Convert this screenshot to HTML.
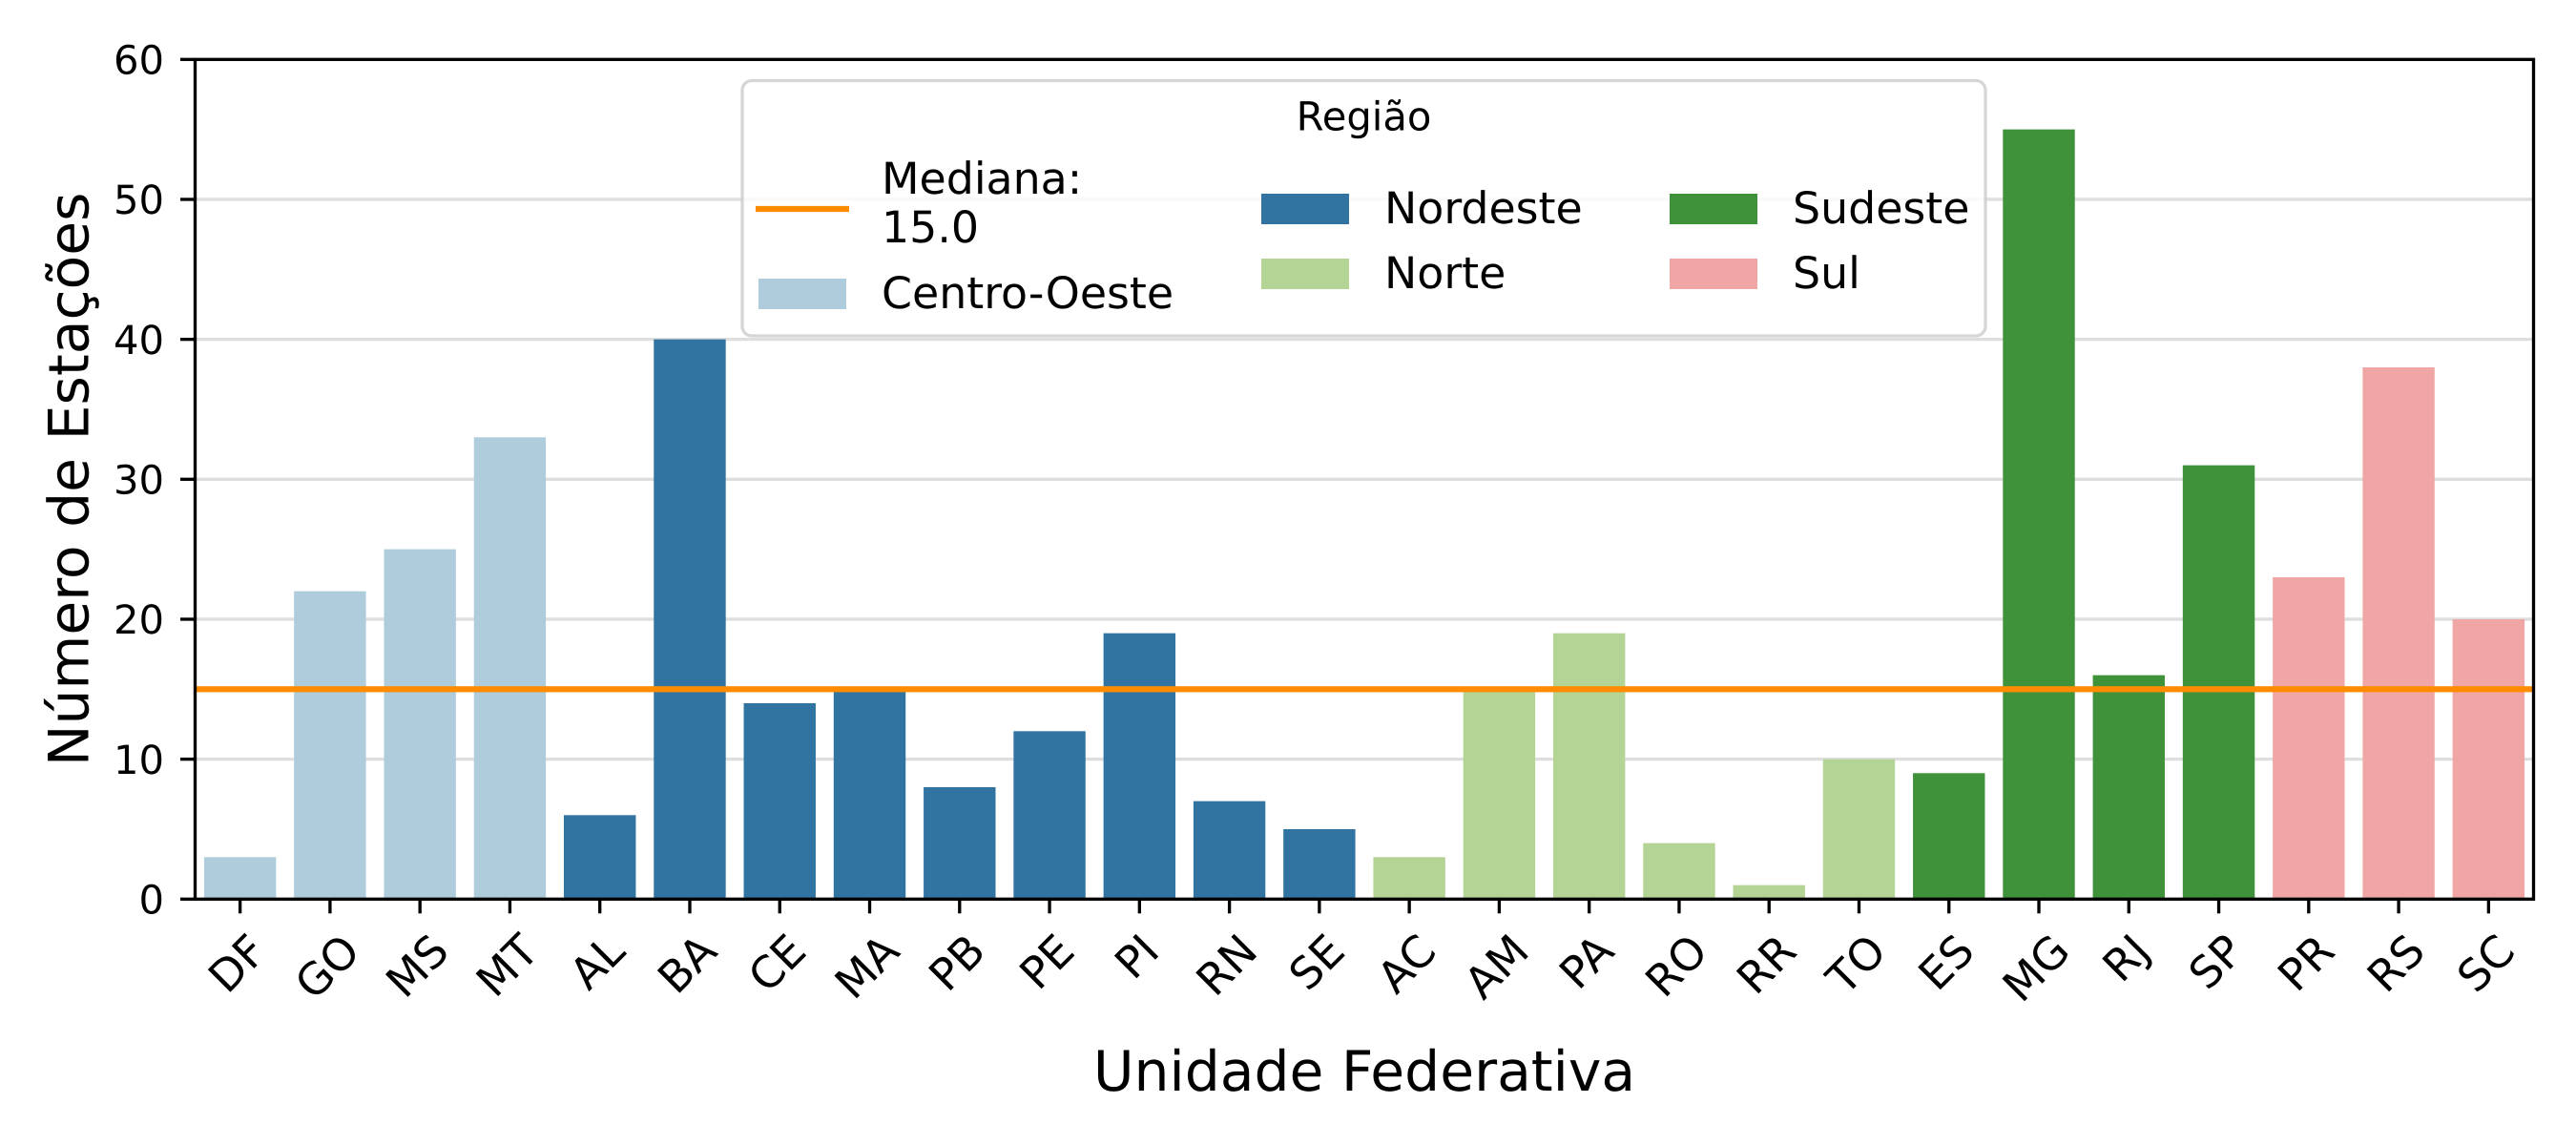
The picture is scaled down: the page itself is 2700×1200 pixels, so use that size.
<!DOCTYPE html>
<html lang="pt-BR">
<head>
<meta charset="utf-8">
<title>Número de Estações por Unidade Federativa</title>
<style>
html,body{margin:0;padding:0;background:#fff;width:2700px;height:1200px;overflow:hidden}
svg{display:block}
text{font-family:"DejaVu Sans","Liberation Sans",sans-serif;fill:#000;text-rendering:geometricPrecision}
</style>
</head>
<body>
<svg id="chart" xmlns="http://www.w3.org/2000/svg" width="2700" height="1200" viewBox="0 0 2700 1200">
  <rect x="0" y="0" width="2700" height="1200" fill="#ffffff"/>
  <g id="grid"></g>
  <g id="bars"></g>
  <rect id="median" fill="#ff8c00"/>
  <g id="xticks"></g>
  <g id="yticks"></g>
  <rect x="204.5" y="62.3" width="2451" height="880" fill="none" stroke="#000" stroke-width="3.33"/>
  <text transform="translate(92.7 502.3) rotate(-90)" text-anchor="middle" font-size="58.33">Número de Estações</text>
  <text x="1430" y="1143" text-anchor="middle" font-size="58.33">Unidade Federativa</text>
  <g id="legend">
    <rect x="778" y="84.5" width="1303" height="267.5" rx="10" ry="10" fill="#ffffff" fill-opacity="0.8" stroke="#cccccc" stroke-opacity="0.8" stroke-width="3.33"/>
    <text x="1429.5" y="136.7" text-anchor="middle" font-size="41.67">Região</text>
    <line x1="792" x2="890" y1="219" y2="219" stroke="#ff8c00" stroke-width="6.25"/>
    <text id="legend-median-label" font-size="45.83"></text>
    <g id="legend-entries"></g>
  </g>
</svg>
<script>
// Chart data
const categories = ["DF","GO","MS","MT","AL","BA","CE","MA","PB","PE","PI","RN","SE","AC","AM","PA","RO","RR","TO","ES","MG","RJ","SP","PR","RS","SC"];
const stationCounts = [3,22,25,33,6,40,14,15,8,12,19,7,5,3,15,19,4,1,10,9,55,16,31,23,38,20];
const regions = ["Centro-Oeste","Centro-Oeste","Centro-Oeste","Centro-Oeste","Nordeste","Nordeste","Nordeste","Nordeste","Nordeste","Nordeste","Nordeste","Nordeste","Nordeste","Norte","Norte","Norte","Norte","Norte","Norte","Sudeste","Sudeste","Sudeste","Sudeste","Sul","Sul","Sul"];
const regionNames = ["Centro-Oeste","Nordeste","Norte","Sudeste","Sul"];
const regionColors = ["#aeccdb","#3274a1","#b3d495","#40923a","#efa6a5"];
const yTickValues = [0,10,20,30,40,50,60];
const medianValue = 15;

const NS = "http://www.w3.org/2000/svg";
const plot = {left:204.5, right:2655.5, top:62.3, bottom:942.3};
const yMax = 60;
const barFraction = 0.8;

function xScale(i){ return plot.left + (i + 0.5) * (plot.right - plot.left) / categories.length; }
function yScale(v){ return plot.bottom - (v / yMax) * (plot.bottom - plot.top); }
function make(tag){ return document.createElementNS(NS, tag); }

const gridG = document.getElementById("grid");
const yTicksG = document.getElementById("yticks");
yTickValues.forEach(function(v){
  const y = yScale(v);
  if (v > 0 && v < yMax) {
    const g = make("line");
    
    
    g.setAttribute("x1", plot.left); g.setAttribute("x2", plot.right);
    g.setAttribute("y1", y); g.setAttribute("y2", y);
    g.setAttribute("stroke", "#dedede"); g.setAttribute("stroke-width", "3.33");
    gridG.appendChild(g);
  }
  const t = make("line");
  
  
  t.setAttribute("x1", plot.left - 15.5); t.setAttribute("x2", plot.left);
  t.setAttribute("y1", y); t.setAttribute("y2", y);
  t.setAttribute("stroke", "#000"); t.setAttribute("stroke-width", "3.33");
  yTicksG.appendChild(t);
  const l = make("text");
  
  
  l.setAttribute("x", 172); l.setAttribute("y", y + 15.2);
  l.setAttribute("text-anchor", "end"); l.setAttribute("font-size", "41.67");
  l.textContent = String(v);
  yTicksG.appendChild(l);
});

const barsG = document.getElementById("bars");
const xTicksG = document.getElementById("xticks");
const step = (plot.right - plot.left) / categories.length;
const labelFont = 45.83;
const labelTop = 975;
categories.forEach(function(cat, i){
  const bar = make("rect");
  
  
  const w = step * barFraction;
  bar.setAttribute("x", xScale(i) - w / 2);
  bar.setAttribute("width", w);
  bar.setAttribute("y", yScale(stationCounts[i]));
  bar.setAttribute("height", yScale(0) - yScale(stationCounts[i]));
  bar.setAttribute("fill", regionColors[regionNames.indexOf(regions[i])]);
  barsG.appendChild(bar);

  const x = xScale(i);
  const t = make("line");
  
  
  t.setAttribute("x1", x); t.setAttribute("x2", x);
  t.setAttribute("y1", plot.bottom); t.setAttribute("y2", plot.bottom + 15);
  t.setAttribute("stroke", "#000"); t.setAttribute("stroke-width", "3.33");
  xTicksG.appendChild(t);

  const l = make("text");
  
  
  l.setAttribute("text-anchor", "middle");
  l.setAttribute("font-size", labelFont);
  l.textContent = cat;
  xTicksG.appendChild(l);
  const len = l.getComputedTextLength();
  const h = labelFont * 0.98;
  const rotated = (len + h) * Math.SQRT1_2;
  const yc = labelTop + rotated / 2;
  l.setAttribute("transform", "translate(" + x + " " + yc + ") rotate(-45)");
  l.setAttribute("y", labelFont * 0.26);
});

const medLine = document.getElementById("median");
medLine.setAttribute("x", plot.left);
medLine.setAttribute("width", plot.right - plot.left);
medLine.setAttribute("y", yScale(medianValue) - 3.125);
medLine.setAttribute("height", 6.25);

const medLabel = document.getElementById("legend-median-label");
const tspanA = make("tspan");


tspanA.setAttribute("x", 924); tspanA.setAttribute("y", 203);
tspanA.textContent = "Mediana:";
medLabel.appendChild(tspanA);
const tspanB = make("tspan");


tspanB.setAttribute("x", 924); tspanB.setAttribute("y", 254);
tspanB.textContent = medianValue.toFixed(1);
medLabel.appendChild(tspanB);

const legendSlotX = [795, 1322, 1322, 1750, 1750];
const legendSlotY = [292, 203, 271, 203, 271];
const legendG = document.getElementById("legend-entries");
regionNames.forEach(function(name, i){
  const s = make("rect");
  
  
  s.setAttribute("x", legendSlotX[i]); s.setAttribute("y", legendSlotY[i]);
  s.setAttribute("width", 92); s.setAttribute("height", 32);
  s.setAttribute("fill", regionColors[i]);
  legendG.appendChild(s);
  const t = make("text");
  
  
  t.setAttribute("x", legendSlotX[i] + 129); t.setAttribute("y", legendSlotY[i] + 31);
  t.setAttribute("font-size", "45.83");
  t.textContent = name;
  legendG.appendChild(t);
});
</script>
</body>
</html>
